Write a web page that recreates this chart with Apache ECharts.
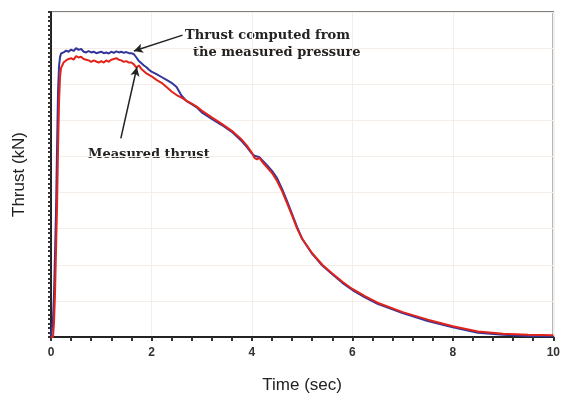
<!DOCTYPE html>
<html>
<head>
<meta charset="utf-8">
<script src="https://cdn.jsdelivr.net/npm/echarts@6/dist/echarts.min.js"></script>
<style>
html,body{margin:0;padding:0;background:#fff;}
#chart{width:563px;height:403px;}
</style>
</head>
<body>
<div id="chart"></div>
<script>
// Time (sec)
const time = [0, 0.02, 0.04, 0.06, 0.08, 0.10, 0.12, 0.14, 0.16, 0.18, 0.20, 0.25, 0.30, 0.35, 0.40, 0.45, 0.50, 0.55, 0.60, 0.65, 0.70, 0.75, 0.80, 0.85, 0.90, 0.95, 1.00, 1.05, 1.10, 1.15, 1.20, 1.25, 1.30, 1.35, 1.40, 1.45, 1.50, 1.55, 1.60, 1.65, 1.70, 1.75, 1.80, 1.85, 1.90, 1.95, 2.00, 2.1, 2.2, 2.3, 2.4, 2.5, 2.6, 2.7, 2.8, 2.9, 3.0, 3.2, 3.4, 3.6, 3.8, 3.9, 4.0, 4.05, 4.1, 4.15, 4.2, 4.3, 4.4, 4.5, 4.6, 4.7, 4.8, 4.9, 5.0, 5.2, 5.4, 5.6, 5.8, 6.0, 6.25, 6.5, 7.0, 7.5, 8.0, 8.5, 9.0, 9.5, 10.0];
// Thrust computed from the measured pressure (blue)
const thrustComputed = [0, 0, 0.5, 1.2, 2.3, 3.5, 5.2, 6.8, 7.5, 7.75, 7.85, 7.88, 7.93, 7.9, 7.96, 7.92, 8.0, 7.95, 7.98, 7.9, 7.88, 7.92, 7.88, 7.9, 7.86, 7.88, 7.9, 7.86, 7.88, 7.85, 7.9, 7.87, 7.91, 7.88, 7.9, 7.87, 7.89, 7.86, 7.86, 7.83, 7.74, 7.64, 7.58, 7.52, 7.47, 7.4, 7.35, 7.28, 7.2, 7.12, 7.04, 6.92, 6.68, 6.53, 6.45, 6.36, 6.22, 6.04, 5.87, 5.68, 5.42, 5.26, 5.08, 5.02, 5.0, 4.98, 4.9, 4.76, 4.6, 4.4, 4.1, 3.76, 3.4, 3.04, 2.72, 2.3, 1.98, 1.74, 1.5, 1.3, 1.1, 0.92, 0.66, 0.44, 0.27, 0.12, 0.06, 0.03, 0.02];
// Measured thrust (red)
const thrustMeasured = [0, 0, 0, 0.4, 1.2, 2.4, 3.6, 5.2, 6.5, 7.2, 7.45, 7.6, 7.66, 7.7, 7.72, 7.68, 7.78, 7.74, 7.76, 7.7, 7.68, 7.66, 7.62, 7.66, 7.63, 7.6, 7.64, 7.6, 7.66, 7.62, 7.68, 7.7, 7.72, 7.68, 7.66, 7.62, 7.64, 7.6, 7.6, 7.55, 7.46, 7.52, 7.42, 7.36, 7.3, 7.26, 7.22, 7.12, 7.04, 6.92, 6.8, 6.7, 6.63, 6.54, 6.46, 6.38, 6.27, 6.08, 5.9, 5.71, 5.46, 5.3, 5.1, 4.96, 4.92, 4.96, 4.86, 4.7, 4.54, 4.32, 4.04, 3.7, 3.36, 3.0, 2.72, 2.32, 2.0, 1.76, 1.53, 1.33, 1.13, 0.95, 0.69, 0.48, 0.3, 0.15, 0.09, 0.06, 0.05];
const xTicks = [0, 2, 4, 6, 8, 10];

const pairs = (ys) => time.map((t, i) => [t, ys[i]]);

const chart = echarts.init(document.getElementById('chart'), null, {renderer: 'canvas'});
chart.setOption({
  animation: false,
  backgroundColor: '#ffffff',
  grid: {left: 51, right: 8, top: 12, bottom: 66, show: true, borderColor: '#555', borderWidth: 1.5},
  xAxis: {
    type: 'value', min: 0, max: 10, interval: 2,
    name: 'Time (sec)', nameLocation: 'middle', nameGap: 40,
    nameTextStyle: {fontFamily: 'Liberation Sans', fontSize: 17, color: '#222'},
    axisLine: {lineStyle: {color: '#222', width: 2}},
    axisTick: {show: true, length: 4, lineStyle: {color: '#333', width: 2}},
    minorTick: {show: true, splitNumber: 5, length: 4, lineStyle: {color: '#333', width: 2}},
    axisLabel: {formatter: v => xTicks.includes(v) ? String(v) : '', fontFamily: 'Liberation Sans', fontWeight: 'bold', fontSize: 12, color: '#333', margin: 10},
    splitLine: {show: true, lineStyle: {color: '#f5eee8', width: 1}}
  },
  yAxis: {
    type: 'value', min: 0, max: 9, interval: 1,
    name: 'Thrust (kN)', nameLocation: 'middle', nameGap: 23,
    nameTextStyle: {fontFamily: 'Liberation Sans', fontSize: 17, color: '#222'},
    axisLine: {show: true, lineStyle: {color: '#222', width: 2}},
    axisTick: {show: true, length: 3, lineStyle: {color: '#333', width: 2}},
    minorTick: {show: true, splitNumber: 8, length: 3, lineStyle: {color: '#333', width: 2}},
    axisLabel: {show: false},
    splitLine: {show: true, lineStyle: {color: '#f5eee8', width: 1}}
  },
  series: [
    {
      name: 'Thrust computed from the measured pressure', type: 'line', data: pairs(thrustComputed),
      showSymbol: false, lineStyle: {color: '#33359a', width: 2}, z: 2,
      markLine: {
        silent: true, symbol: ['none', 'arrow'], symbolSize: [7, 9],
        lineStyle: {color: '#222', width: 1.5, type: 'solid'}, label: {show: false},
        data: [
          [{coord: [2.62, 8.36]}, {coord: [1.65, 7.92]}],
          [{coord: [1.39, 5.5]}, {coord: [1.71, 7.47]}]
        ]
      }
    },
    {
      name: 'Measured thrust', type: 'line', data: pairs(thrustMeasured),
      showSymbol: false, lineStyle: {color: '#e2231a', width: 2}, z: 3
    }
  ],
  graphic: [
    {type: 'text', left: 185, top: 29, style: {text: 'Thrust computed from', fill: '#222', font: 'bold 13px "DejaVu Serif"'}},
    {type: 'text', left: 193, top: 46, style: {text: 'the measured pressure', fill: '#222', font: 'bold 13px "DejaVu Serif"'}},
    {type: 'text', left: 88, top: 148, style: {text: 'Measured thrust', fill: '#222', font: 'bold 13px "DejaVu Serif"'}}
  ]
});
</script>
</body>
</html>
